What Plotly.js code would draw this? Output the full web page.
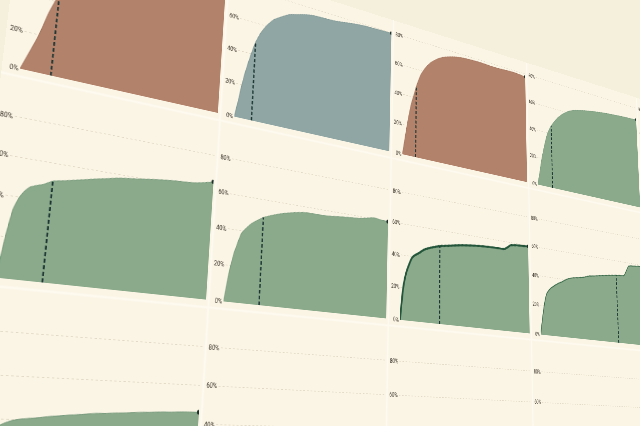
<!DOCTYPE html>
<html>
<head>
<meta charset="utf-8">
<script src="https://cdn.plot.ly/plotly-3.0.1.min.js"></script>
<style>
html, body { margin: 0; padding: 0; width: 640px; height: 426px; overflow: hidden; background: #f5f0dc; }
#hoja { position: absolute; left: 0; top: 0; overflow: hidden; transform-origin: 0 0; }
#grafica { position: absolute; left: 0; }
</style>
</head>
<body>
<div id="hoja"><div id="grafica"></div></div>
<script>
// semanas (eje x comun a todos los paneles)
var semanas = [0, 2, 4, 6, 8, 10, 13, 16, 20, 25, 30, 35, 40, 45, 50, 55, 60, 65, 70, 75, 80, 85, 90, 95, 100];

// porcentaje acumulado por panel, fila por fila
var f1a = [0, 6, 12, 18, 25, 33, 42, 50, 57, 62, 66, 68.5, 70, 71, 72, 72.5, 73, 73.5, 74, 74, 74, 74.5, 74.5, 74.5, 75];
var f1b = [0, 12, 24, 33, 41, 48, 55, 60, 65, 68.5, 71.5, 73, 74.5, 75.5, 75.8, 76, 76.3, 77, 77.8, 78.5, 79, 79.2, 79.4, 79.5, 79.6];
var f1c = [0, 13, 25, 35, 42, 49, 57, 62, 67, 71, 73.8, 75.5, 76.8, 77.6, 78, 78.2, 78.3, 78.2, 78, 78, 78.2, 78.5, 78.6, 78.3, 77.8];
var f1d = [0, 9, 19, 27, 34, 40, 45.5, 49.5, 54, 58, 61, 63, 64.2, 65.2, 66, 66.8, 67.4, 68, 68.5, 68.9, 69.3, 69.6, 69.9, 70.1, 70.4];
var f1e = [0, 10, 20, 28, 35, 41, 46, 50, 54, 57, 59, 60.5, 61.5, 62.3, 63, 63.5, 64, 64.4, 64.8, 65.1, 65.4, 65.6, 65.8, 66, 66.1];
var f2a = [0, 20, 34, 40, 43.5, 45.8, 47.2, 48.3, 50.7, 51.8, 53, 54.2, 55.5, 56.6, 57.8, 58.6, 59.2, 60, 60.7, 61.3, 61.8, 62.1, 62.6, 63.6, 64.9];
var f2b = [0, 15, 26, 33, 39, 41.5, 44.8, 47, 49.6, 51.6, 53.3, 54.6, 55.7, 56.5, 56.6, 56.6, 56.8, 57.3, 57.8, 58.2, 58.6, 59.5, 60.5, 60, 59.6];
var f2c = [0, 20, 29.5, 35, 39.3, 41.2, 43, 45.2, 47, 48.6, 49.9, 50.7, 51.6, 52.4, 53, 53.6, 54, 54.3, 54.5, 54.6, 54.8, 58, 58.7, 59, 59.3];
var f2d = [0, 12, 22, 28.5, 31, 32.8, 34.8, 36.5, 38.3, 40.8, 42.2, 43, 43.8, 45.3, 46, 46.8, 47.5, 48.3, 48.9, 49.4, 49.9, 57.5, 58.2, 58.8, 59];
var f2e = [0, 9, 17, 24, 29, 33, 37, 40, 43, 45.5, 47, 48, 49, 49.6, 50.2, 50.7, 51.1, 51.5, 51.8, 52, 52.3, 52.5, 52.7, 52.9, 53];
var f3a = [0, 15, 26, 32, 37, 38.2, 39.5, 40.2, 40.7, 41.3, 42, 42.5, 43, 43.5, 44, 44.2, 44.5, 44.8, 45.1, 45.4, 45.6, 45.8, 46, 46.1, 46.2];
var f3b = [0, 10, 18, 23, 26, 28, 29.5, 30.5, 31.5, 32.2, 32.8, 33.2, 33.5, 33.8, 34, 34.1, 34.3, 34.5, 34.6, 34.8, 35, 35.1, 35.2, 35.3, 35.4];
var f3c = [0, 8, 15, 20, 23, 25, 26.5, 27.7, 29, 30, 30.8, 31.4, 31.9, 32.3, 32.6, 32.9, 33.1, 33.3, 33.5, 33.6, 33.8, 33.9, 34, 34.1, 34.2];
var f3d = [0, 9, 17, 22, 26, 28.5, 30.5, 32, 33.3, 34.3, 35, 35.5, 35.9, 36.2, 36.5, 36.7, 36.9, 37, 37.2, 37.3, 37.4, 37.5, 37.6, 37.7, 37.8];
var f3e = [0, 7, 13, 18, 21, 23.5, 25.5, 27, 28.5, 29.6, 30.4, 31, 31.5, 31.9, 32.2, 32.5, 32.7, 32.9, 33, 33.2, 33.3, 33.4, 33.5, 33.6, 33.7];

// semana marcada con la linea discontinua en cada panel
var marcas = [14, 10, 9.7, 13.5, 12, 20, 20, 28.5, 72, 15, 8, 15, 25, 18, 20];

var ticksY = [0, 20, 40, 60, 80];
var etiquetasY = ['0%', '20%', '40%', '60%', '80%'];

var paneles = [f1a, f1b, f1c, f1d, f1e, f2a, f2b, f2c, f2d, f2e, f3a, f3b, f3c, f3d, f3e];
var tonos = ['ladrillo', 'pizarra', 'ladrillo', 'salvia', 'salvia',
             'salvia', 'salvia', 'salvia', 'salvia', 'salvia',
             'salvia', 'salvia', 'salvia', 'salvia', 'salvia'];
var paleta = {
    ladrillo: {fill: '#b3826b', line: '#a2715b'},
    pizarra: {fill: '#8fa6a4', line: '#7c9593'},
    salvia: {fill: '#8aaa8b', line: '#75987a'}
};

// tamano de cada celda en el plano (antes de la perspectiva)
var CW = 300, CH = 260, ML = 22, MR = 4, MT = 2, MB = 10;
var NC = 5, NR = 3;
var W = NC * CW, H = NR * CH;
var altoPlot = CH - MT - MB;
var recorte = MT + 0.11 * altoPlot; // la primera fila queda cortada arriba

function valorEn(serie, x) {
    for (var i = 1; i < semanas.length; i++) {
        if (x <= semanas[i]) {
            var t = (x - semanas[i - 1]) / (semanas[i] - semanas[i - 1]);
            return serie[i - 1] + t * (serie[i] - serie[i - 1]);
        }
    }
    return serie[serie.length - 1];
}

var trazas = [];
var layout = {
    width: W, height: H,
    margin: {l: 0, r: 0, t: 0, b: 0},
    paper_bgcolor: '#fbf5e6',
    plot_bgcolor: 'rgba(0,0,0,0)',
    showlegend: false,
    font: {family: 'Roboto, DejaVu Sans, sans-serif', size: 8.5, color: '#352e24'},
    shapes: []
};

paneles.forEach(function (serie, i) {
    var fila = Math.floor(i / NC), col = i % NC;
    var s = i === 0 ? '' : String(i + 1);
    var tono = paleta[tonos[i]];
    var linea = {color: tono.line, width: 1, shape: 'spline', smoothing: 0.5};
    if (i === 7) linea = {color: '#23553a', width: 3.4, shape: 'spline', smoothing: 0.5};
    if (i === 8) linea = {color: '#3a6b4a', width: 1.6, shape: 'spline', smoothing: 0.5};

    trazas.push({
        x: semanas, y: serie, xaxis: 'x' + s, yaxis: 'y' + s,
        type: 'scatter', mode: 'lines', fill: 'tozeroy',
        fillcolor: tono.fill, line: linea, hoverinfo: 'skip'
    });
    trazas.push({
        x: [marcas[i], marcas[i]], y: [0, valorEn(serie, marcas[i])],
        xaxis: 'x' + s, yaxis: 'y' + s, type: 'scatter', mode: 'lines',
        line: {color: '#1c3533', width: 2.2, dash: '5px,3px'}, hoverinfo: 'skip'
    });
    trazas.push({
        x: [semanas[semanas.length - 1]], y: [serie[serie.length - 1]],
        xaxis: 'x' + s, yaxis: 'y' + s, type: 'scatter', mode: 'markers',
        marker: {color: '#1b2e29', size: 6}, hoverinfo: 'skip'
    });

    var x0 = col * CW + ML, x1 = col * CW + CW - MR;
    var yTop = fila * CH + MT, yBot = fila * CH + CH - MB;
    layout['xaxis' + s] = {
        domain: [x0 / W, x1 / W], range: [0, 100], anchor: 'y' + s,
        visible: false, fixedrange: true
    };
    layout['yaxis' + s] = {
        domain: [1 - yBot / H, 1 - yTop / H], range: [0, 100], anchor: 'x' + s,
        tickvals: ticksY, ticktext: etiquetasY, ticks: '', showline: false,
        zeroline: false, showgrid: true, griddash: 'dot',
        gridcolor: 'rgba(110,90,50,0.18)', gridwidth: 1, layer: 'above traces',
        ticklabelstandoff: 1, fixedrange: true
    };
});

// lineas claras entre celdas
for (var c = 1; c < NC; c++) {
    layout.shapes.push({type: 'line', xref: 'paper', yref: 'paper', layer: 'below',
        x0: c * CW / W, x1: c * CW / W, y0: 0, y1: 1, line: {color: '#fefaef', width: 3}});
}
for (var r = 1; r < NR; r++) {
    layout.shapes.push({type: 'line', xref: 'paper', yref: 'paper', layer: 'below',
        x0: 0, x1: 1, y0: 1 - r * CH / H, y1: 1 - r * CH / H, line: {color: '#fefaef', width: 3}});
}

// puntos del plano -> puntos de la foto, para la perspectiva
var pares = [
    [300, 260, 220, 122], [600, 260, 390, 158], [900, 260, 528, 186],
    [300, 520, 213, 309], [600, 520, 387, 326], [900, 520, 531, 341],
    [600, recorte, 391, 19], [900, recorte, 527, 63],
    [611, 51.6, 399, 35], [911, 51.6, 533, 77],
    [613.5, 250, 400, 153], [913.5, 250, 533, 183],
    [613.5, 510, 396, 319], [913.5, 510, 537, 335],
    [311, 101.2, 235, 16], [313.5, 250, 229, 115],
    [311, 311.6, 226, 156], [313.5, 510, 218, 299],
    [311, 571.6, 214, 345], [311, 670.8, 210, 423],
    [611, 571.6, 394, 360], [911, 571.6, 537, 371],
    [296, 349, 211, 182], [76.8, 510, 39, 284],
    [22, 250, 19, 71], [296, 655.4, 197, 413], [11, 311.6, 7, 112]
];

function homografia(lista) {
    var s1 = 1000, s2 = 640;
    var M = [], b = [];
    lista.forEach(function (p) {
        var x = p[0] / s1, y = (p[1] - recorte) / s1, X = p[2] / s2, Y = p[3] / s2;
        M.push([x, y, 1, 0, 0, 0, -x * X, -y * X]); b.push(X);
        M.push([0, 0, 0, x, y, 1, -x * Y, -y * Y]); b.push(Y);
    });
    var N = [], v = [];
    for (var i = 0; i < 8; i++) {
        N.push([]); v.push(0);
        for (var j = 0; j < 8; j++) {
            var acc = 0;
            for (var k = 0; k < M.length; k++) acc += M[k][i] * M[k][j];
            N[i].push(acc);
        }
        for (var k = 0; k < M.length; k++) v[i] += M[k][i] * b[k];
    }
    for (var c = 0; c < 8; c++) {
        var piv = c;
        for (var i = c + 1; i < 8; i++) if (Math.abs(N[i][c]) > Math.abs(N[piv][c])) piv = i;
        var tmp = N[c]; N[c] = N[piv]; N[piv] = tmp;
        tmp = v[c]; v[c] = v[piv]; v[piv] = tmp;
        for (var i = c + 1; i < 8; i++) {
            var f = N[i][c] / N[c][c];
            for (var j = c; j < 8; j++) N[i][j] -= f * N[c][j];
            v[i] -= f * v[c];
        }
    }
    var h = new Array(8);
    for (var i = 7; i >= 0; i--) {
        var acc = v[i];
        for (var j = i + 1; j < 8; j++) acc -= N[i][j] * h[j];
        h[i] = acc / N[i][i];
    }
    return [h[0] * s2 / s1, h[1] * s2 / s1, h[2] * s2,
            h[3] * s2 / s1, h[4] * s2 / s1, h[5] * s2,
            h[6] / s1, h[7] / s1];
}

var Hm = homografia(pares);
var hoja = document.getElementById('hoja');
hoja.style.width = W + 'px';
hoja.style.height = (H - recorte) + 'px';
document.getElementById('grafica').style.top = (-recorte) + 'px';
hoja.style.transform = 'matrix3d(' + [Hm[0], Hm[3], 0, Hm[6], Hm[1], Hm[4], 0, Hm[7],
    0, 0, 1, 0, Hm[2], Hm[5], 0, 1].join(',') + ')';

Plotly.newPlot('grafica', trazas, layout, {staticPlot: true, displayModeBar: false});
</script>
</body>
</html>
